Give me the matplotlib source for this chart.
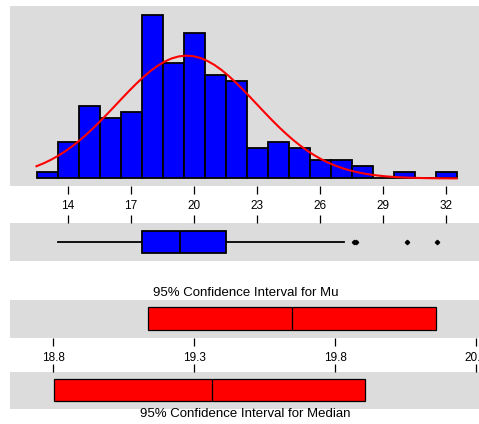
import numpy as np
import matplotlib.pyplot as plt

plt.rcParams['font.family'] = ['Liberation Sans', 'DejaVu Sans']

# histogram data (bin centres, counts)
bin_centers = [13, 14, 15, 16, 17, 18, 19, 20, 21, 22, 23, 24, 25, 26, 27, 28, 29, 30, 31, 32]
counts = [1, 6, 12, 10, 11, 27, 19, 24, 17, 16, 5, 6, 5, 3, 3, 2, 0, 1, 0, 1]
hist_ticks = [14, 17, 20, 23, 26, 29, 32]

# fitted normal
fit_mean = 19.65
fit_sd = 3.33

# boxplot summary
box_q1 = 17.54
box_med = 19.34
box_q3 = 21.54
box_whislo = 13.51
box_whishi = 27.13
box_fliers = [27.6, 27.7, 30.13, 31.57]

# confidence intervals
mu_ci = [19.135, 20.158]
mu_est = 19.648
median_ci = [18.802, 19.908]
median_est = 19.364
ci_ticks = [18.8, 19.3, 19.8, 20.3]

W, H = 479, 424
GRAY = '#dcdcdc'
FS = 8.5
TITLE_FS = 9.5


def pix_axes(fig, x0, y0, x1, y1):
    # pixel box (top-left origin) -> figure axes
    return fig.add_axes([x0 / W, 1 - y1 / H, (x1 - x0) / W, (y1 - y0) / H])


def style(ax):
    ax.set_facecolor(GRAY)
    for s in ax.spines.values():
        s.set_visible(False)
    ax.set_yticks([])


fig = plt.figure(figsize=(W / 100, H / 100), dpi=100)
fig.patch.set_facecolor('white')

hist_xlim = (14 - 58 / 21.0, 14 + 411 / 21.0)
ci_xlim = (18.8 - 43.3 / 281.7, 18.8 + 425.7 / 281.7)

# histogram
ax1 = pix_axes(fig, 10, 6, 479, 185.7)
style(ax1)
ax1.bar(bin_centers, counts, width=1.0, color='#0000ff', edgecolor='black', linewidth=1.3)
n = sum(counts)
xs = np.linspace(12.5, 32.5, 60)
ys = n * np.exp(-0.5 * ((xs - fit_mean) / fit_sd) ** 2) / (fit_sd * np.sqrt(2 * np.pi))
ax1.plot(xs, ys, color='red', linewidth=1.5)
ax1.set_xlim(*hist_xlim)
ax1.set_ylim(-7.2 / 6.04, (177.7 - 6) / 6.04)
ax1.set_xticks(hist_ticks)
ax1.set_xticklabels([str(t) for t in hist_ticks])
ax1.tick_params(axis='x', direction='out', length=6, width=0.9, pad=4.5, labelsize=FS)

# boxplot
ax2 = pix_axes(fig, 10, 222.7, 479, 260.7)
style(ax2)
stats = [dict(q1=box_q1, med=box_med, q3=box_q3, whislo=box_whislo, whishi=box_whishi,
              fliers=box_fliers)]
ax2.bxp(stats, positions=[0.5], widths=0.58, vert=False, patch_artist=True, showcaps=False,
        boxprops=dict(facecolor='#0000ff', edgecolor='black', linewidth=1.3),
        medianprops=dict(color='black', linewidth=1.3),
        whiskerprops=dict(color='black', linewidth=1.3),
        flierprops=dict(marker='D', markersize=2.2, markerfacecolor='black',
                        markeredgecolor='black'))
ax2.set_yticks([])
ax2.set_xlim(*hist_xlim)
ax2.set_ylim(0, 1)
ax2.set_xticks(hist_ticks)
ax2.xaxis.tick_top()
ax2.tick_params(axis='x', direction='out', length=6, width=0.9, labeltop=False)

# CI for mu
ax3 = pix_axes(fig, 10, 300, 479, 337.7)
style(ax3)
ax3.barh([0.505], [mu_ci[1] - mu_ci[0]], left=mu_ci[0], height=0.6,
         color='#ff0000', edgecolor='black', linewidth=0.9)
ax3.vlines(mu_est, 0.505 - 0.3, 0.505 + 0.3, color='black', linewidth=0.9)
ax3.set_xlim(*ci_xlim)
ax3.set_ylim(0, 1)
ax3.set_xticks(ci_ticks)
ax3.set_xticklabels([f'{t:.1f}' for t in ci_ticks])
ax3.tick_params(axis='x', direction='out', length=6, width=0.9, pad=4.5, labelsize=FS)

# CI for median
ax4 = pix_axes(fig, 10, 371.7, 479, 409.3)
style(ax4)
ax4.barh([0.505], [median_ci[1] - median_ci[0]], left=median_ci[0], height=0.585,
         color='#ff0000', edgecolor='black', linewidth=0.9)
ax4.vlines(median_est, 0.505 - 0.2925, 0.505 + 0.2925, color='black', linewidth=0.9)
ax4.set_xlim(*ci_xlim)
ax4.set_ylim(0, 1)
ax4.set_xticks(ci_ticks)
ax4.xaxis.tick_top()
ax4.tick_params(axis='x', direction='out', length=6, width=0.9, labeltop=False)

fig.text(245.5 / W, 1 - 292.7 / H, '95% Confidence Interval for Mu',
         ha='center', va='center', fontsize=TITLE_FS)
fig.text(245.5 / W, 1 - 414.3 / H, '95% Confidence Interval for Median',
         ha='center', va='center', fontsize=TITLE_FS)

fig.savefig('out.png', dpi=100)
